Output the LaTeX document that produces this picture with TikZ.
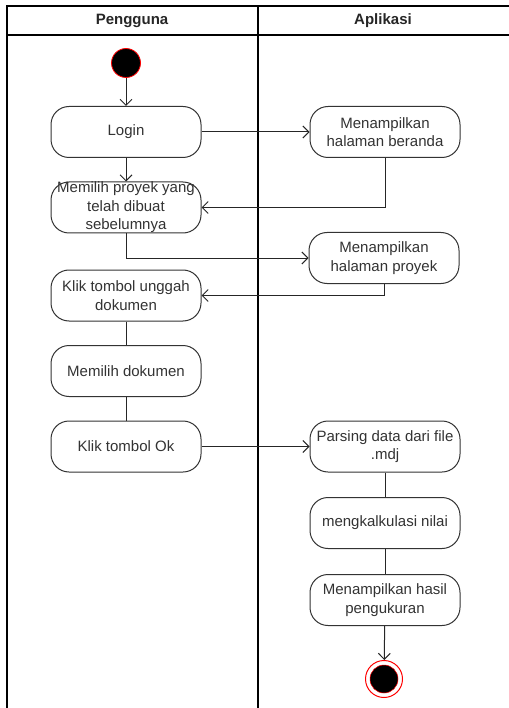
\documentclass[tikz,border=0pt]{standalone}
\usepackage{fontspec}
\setmainfont{Liberation Sans}
\usetikzlibrary{positioning, arrows.meta}

\begin{document}
\begin{tikzpicture}[x=1pt, y=-1pt,
      actnode/.style={rectangle, rounded corners=18pt, draw=black!80, line width=1pt, fill=white, text=black!80, minimum height=51pt, minimum width=150pt, inner xsep=2pt, inner ysep=0pt, align=center, font=\fontsize{15}{18.5}\selectfont},
      lanehead/.style={text=black!85, font=\fontsize{15}{18}\selectfont\bfseries},
      startnode/.style={circle, fill=black, draw=red, line width=0.8pt, minimum size=29pt, inner sep=0pt},
      endnode/.style={circle, fill=white, draw=red, line width=1pt, minimum size=37pt, inner sep=0pt,
        path picture={\filldraw[fill=black, draw=red, line width=0.5pt] (path picture bounding box.center) circle (14pt);}},
      flow/.style={-{Straight Barb[length=6pt, width=12pt]}, draw=black!85, line width=1pt},
      link/.style={-, draw=black!85, line width=1pt},
      ]
      \useasboundingbox (0,0) rectangle (508,708);
      %Lanes
      \draw[line width=1.3pt] (7,710) -- (7,6) -- (510,6);
      \draw[line width=1.3pt] (7,35) -- (510,35);
      \draw[line width=1.3pt] (258,6) -- (258,710);
      \node[lanehead]      (pengguna)  at (132,21)                 {Pengguna};
      \node[lanehead]      (aplikasi)  at (383,21)                 {Aplikasi};

      %Nodes
      \node[startnode]     (start)     at (126,63)                 {};
      \node[actnode]       (login)     at (126,132)                {Login};
      \node[actnode]       (proyek)    at (126,207.5)              {Memilih proyek yang\\telah dibuat\\sebelumnya};
      \node[actnode]       (unggah)    at (126,295.5)              {Klik tombol unggah\\dokumen};
      \node[actnode]       (dokumen)   at (126,371)                {Memilih dokumen};
      \node[actnode]       (tombolok)  at (126,446.5)              {Klik tombol Ok};
      \node[actnode]       (beranda)   [right=108pt of login]      {Menampilkan\\halaman beranda};
      \node[actnode]       (halproyek) at (384,258)                {Menampilkan\\halaman proyek};
      \node[actnode]       (parsing)   [right=108pt of tombolok]   {Parsing data dari file\\.mdj};
      \node[actnode]       (kalkulasi) [below=24.5pt of parsing]   {mengkalkulasi nilai};
      \node[actnode]       (hasil)     [below=25pt of kalkulasi]   {Menampilkan hasil\\pengukuran};
      \node[endnode]       (finish)    at (384,679)                {};

      %Lines
      \draw[flow] (start) -- (login);
      \draw[flow] (login) -- (proyek);
      \draw[flow] (login.east) -- (beranda.west);
      \draw[flow] (beranda.south) |- (proyek.east);
      \draw[flow] (proyek.south) |- (halproyek.west);
      \draw[flow] (halproyek.south) |- (unggah.east);
      \draw[link] (unggah) -- (dokumen);
      \draw[link] (dokumen) -- (tombolok);
      \draw[flow] (tombolok) -- (parsing);
      \draw[link] (parsing) -- (kalkulasi);
      \draw[link] (kalkulasi) -- (hasil);
      \draw[flow] (hasil) -- (finish);
    \end{tikzpicture}
\end{document}
